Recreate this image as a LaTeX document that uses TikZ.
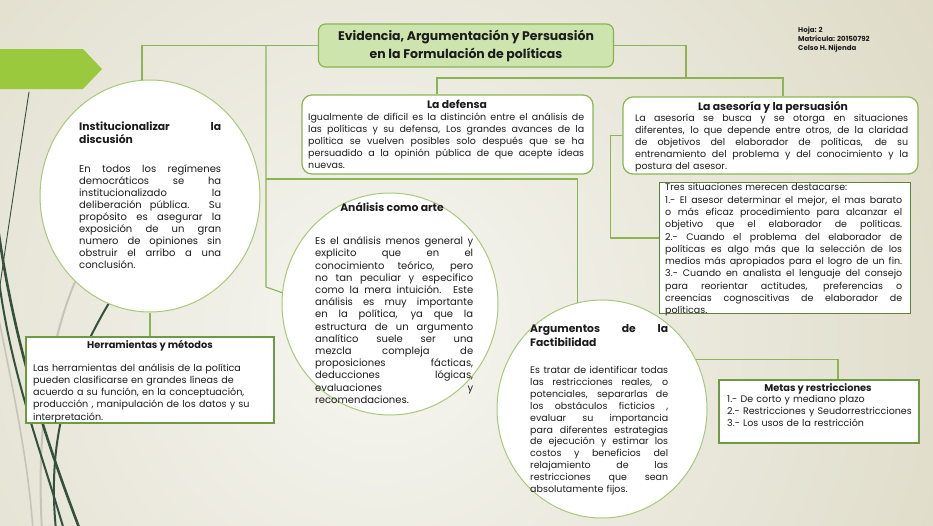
\documentclass[tikz,border=0pt]{standalone}
\usepackage{fontspec}
\setmainfont{Poppins}
\usetikzlibrary{shapes.geometric}
\definecolor{linegreen}{HTML}{8CB452}
\definecolor{ellgreen}{HTML}{A9C97A}
\definecolor{boxgreen}{HTML}{6E9A44}
\definecolor{titlefill}{HTML}{CDE4AE}
\definecolor{titledraw}{HTML}{8DB34F}
\definecolor{arrowgreen}{HTML}{9BC93D}
\definecolor{darkdeco}{HTML}{34503F}
\definecolor{graydeco}{HTML}{C4C4B8}
\definecolor{bglight}{HTML}{F6F6F1}
\definecolor{bgdark}{HTML}{DAD6C0}
\definecolor{txtcol}{HTML}{1C1C1C}
\newcommand\jl[1]{\makebox[\linewidth][s]{\spaceskip=0pt\relax\xspaceskip=0pt\relax\strut #1}\\}
\begin{document}
\begin{tikzpicture}[x=1pt,y=-1pt,
  conn/.style={draw=linegreen, line width=1.1pt},
  ellbox/.style={ellipse, draw=ellgreen, line width=1pt, fill=white, inner sep=0pt},
  roundbox/.style={rectangle, draw=linegreen, line width=1.2pt, fill=white, rounded corners=10pt, inner sep=0pt},
  sqbox/.style={rectangle, draw=boxgreen, line width=1.1pt, fill=white, inner sep=0pt},
  txt/.style={inner sep=0pt, anchor=north west, text=txtcol, align=left, font=\fontsize{9.5}{12}\selectfont},
  head/.style={inner sep=0pt, anchor=base, text=txtcol, font=\fontsize{10.8}{13}\selectfont\bfseries},
  deco/.style={draw=darkdeco, line cap=round}]
\useasboundingbox (0,0) rectangle (933,525);
% background
\fill[bgdark] (0,0) rectangle (933,525);
\begin{scope}
  \clip (0,0) rectangle (933,525);
  \shade[inner color=bglight, outer color=bgdark] (380,330) circle (750);
\end{scope}
% left decoration
\fill[arrowgreen] (0,49) -- (83,49) -- (102,69) -- (83,89) -- (0,89) -- cycle;
\draw[deco, line width=0.9pt] (29,92) .. controls (14,190) and (2,270) .. (-2,300);
\draw[draw=graydeco, line width=2pt] (75,282) .. controls (50,340) and (36,430) .. (42,530);
\draw[draw=graydeco, line width=1.6pt] (-5,300) .. controls (15,400) and (28,460) .. (33,530);
\draw[deco, line width=2.6pt] (-5,205) .. controls (10,330) and (42,430) .. (80,530);
\draw[deco, line width=2pt] (-5,245) .. controls (5,360) and (38,440) .. (64,530);
\draw[deco, line width=2pt] (112,298) .. controls (62,380) and (48,450) .. (56,530);
% top right info
\node[txt, font=\fontsize{7}{9}\selectfont\bfseries] (info) at (798,25.5)
  {\strut Hoja: 2\\Matrícula: 20150792\\Celso H. Nijenda};
% shapes
\node[rectangle, draw=titledraw, line width=1.2pt, fill=titlefill, rounded corners=7pt,
  minimum width=295pt, minimum height=43pt, inner sep=0pt, align=center, text=txtcol,
  font=\fontsize{12.5}{18}\selectfont\bfseries] (title) at (466,45.5)
  {Evidencia, Argumentación y Persuasión\\en la Formulación de políticas};
\node[ellbox, minimum width=220pt, minimum height=232pt] (lell) at (150,196) {};
\node[ellbox, minimum width=216pt, minimum height=222pt] (anal) at (390,304) {};
\node[ellbox, minimum width=210pt, minimum height=218pt] (arg) at (602,409) {};
\node[roundbox, minimum width=291pt, minimum height=79pt] (defensa) at (447.5,134.5) {};
\node[roundbox, minimum width=295pt, minimum height=77pt] (asesoria) at (770.5,135.5) {};
\node[sqbox, minimum width=251pt, minimum height=131pt, draw=boxgreen!85!black, line width=0.9pt] (tres) at (784.5,247.5) {};
\node[sqbox, minimum width=200pt, minimum height=63pt] (metas) at (819,411.5) {};
\node[sqbox, minimum width=248pt, minimum height=86pt] (herr) at (150,380) {};
% connectors
\coordinate (jleft) at (266,45.5);
\coordinate (jmid) at (266,179);
\coordinate (jlow) at (266,287);
\coordinate (bus) at (686,78);
\draw[conn] (title.west) -| ([xshift=-8pt]lell.north);
\draw[conn] (jleft) -- (jlow) -- (anal.174);
\draw[conn] (jmid) -| (arg.103);
\draw[conn] (title.east) -| (bus);
\draw[conn] ([xshift=-10.5pt]defensa.north) |- (bus) -| ([xshift=12.5pt]asesoria.north);
\draw[conn] (lell.south) -- (herr.north);
\draw[conn] (asesoria.west) -- ++(-12,0) |- ([yshift=9.5pt]tres.west);
\draw[conn] (arg.28) -| ([xshift=19pt]metas.north);
% texts: left ellipse
\node[txt, text width=142pt, font=\fontsize{10.8}{13}\selectfont\bfseries] (lellt) at (79,121)
  {\jl{Institucionalizar la}discusión};
\node[txt, text width=142pt, font=\fontsize{10}{12}\selectfont] (lellb) at (79,164)
  {\jl{En todos los regímenes}\jl{democráticos se ha}\jl{institucionalizado la}%
   \jl{deliberación pública. Su}\jl{propósito es asegurar la}\jl{exposición de un gran}%
   \jl{numero de opiniones sin}\jl{obstruir el arribo a una}conclusión.};
% defensa
\node[head] (deft) at (457,108.5) {La defensa};
\node[txt, text width=276pt] (defb) at (308,111.7)
  {\jl{Igualmente de difícil es la distinción entre el análisis de}%
   \jl{las políticas y su defensa, Los grandes avances de la}%
   \jl{política se vuelven posibles solo después que se ha}%
   \jl{persuadido a la opinión pública de que acepte ideas}nuevas.};
% asesoria
\node[head] (aset) at (773,110.5) {La asesoría y la persuasión};
\node[txt, text width=273pt] (aseb) at (635,113)
  {\jl{La asesoría se busca y se otorga en situaciones}%
   \jl{diferentes, lo que depende entre otros, de la claridad}%
   \jl{de objetivos del elaborador de políticas, de su}%
   \jl{entrenamiento del problema y del conocimiento y la}postura del asesor.};
% analisis
\node[head] (analt) at (392,211) {Análisis como arte};
\node[txt, text width=158pt, font=\fontsize{10}{12.2}\selectfont] (analb) at (315,236)
  {\jl{Es el análisis menos general y}\jl{explicito que en el}\jl{conocimiento teórico, pero}%
   \jl{no tan peculiar y especifico}\jl{como la mera intuición. Este}\jl{análisis es muy importante}%
   \jl{en la política, ya que la}\jl{estructura de un argumento}\jl{analítico suele ser una}%
   \jl{mezcla compleja de}\jl{proposiciones fácticas,}\jl{deducciones lógicas,}%
   \jl{evaluaciones y}recomendaciones.};
% argumentos
\node[txt, text width=138pt, font=\fontsize{10.8}{14}\selectfont\bfseries] (argt) at (530,322)
  {\jl{Argumentos de la}Factibilidad};
\node[txt, text width=138pt, font=\fontsize{9.5}{11.9}\selectfont] (argb) at (530,365)
  {\jl{Es tratar de identificar todas}\jl{las restricciones reales, o}\jl{potenciales, separarlas de}%
   \jl{los obstáculos ficticios ,}\jl{evaluar su importancia}\jl{para diferentes estrategias}%
   \jl{de ejecución y estimar los}\jl{costos y beneficios del}\jl{relajamiento de las}%
   \jl{restricciones que sean}absolutamente fijos.};
% tres situaciones
\node[txt, text width=237pt, font=\fontsize{9.5}{12.3}\selectfont] (tresb) at (665,182)
  {\strut Tres situaciones merecen destacarse:\\
   \jl{1.- El asesor determinar el mejor, el mas barato}%
   \jl{o más eficaz procedimiento para alcanzar el}%
   \jl{objetivo que el elaborador de políticas.}%
   \jl{2.- Cuando el problema del elaborador de}%
   \jl{políticas es algo más que la selección de los}%
   \jl{medios más apropiados para el logro de un fin.}%
   \jl{3.- Cuando en analista el lenguaje del consejo}%
   \jl{para reorientar actitudes, preferencias o}%
   \jl{creencias cognoscitivas de elaborador de}políticas.};
% herramientas
\node[head, font=\fontsize{9.8}{12}\selectfont\bfseries] (herrt) at (150,348) {Herramientas y métodos};
\node[txt, text width=240pt, font=\fontsize{9.6}{12.1}\selectfont] (herrb) at (33,363)
  {\strut Las herramientas del análisis de la política\\
   pueden clasificarse en grandes líneas de\\
   acuerdo a su función, en la conceptuación,\\
   producción , manipulación de los datos y su\\
   interpretación.};
% metas
\node[head, font=\fontsize{9.8}{12}\selectfont\bfseries] (metast) at (818,391) {Metas y restricciones};
\node[txt, text width=190pt, font=\fontsize{9.5}{12}\selectfont] (metasb) at (727,394)
  {\strut 1.- De corto y mediano plazo\\
   2.- Restricciones y Seudorrestricciones\\
   3.- Los usos de la restricción};
\end{tikzpicture}
\end{document}
